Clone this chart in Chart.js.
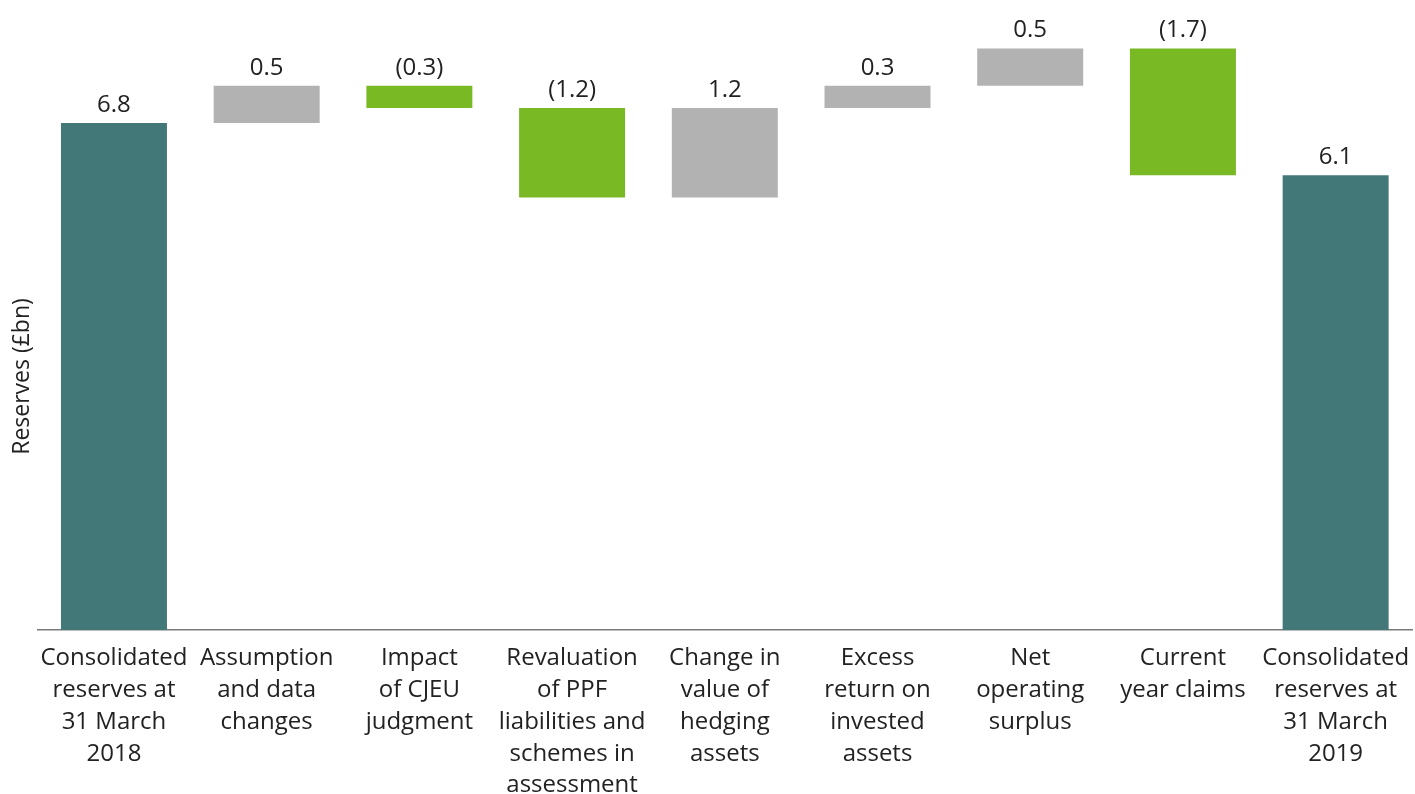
<!DOCTYPE html>
<html>
<head>
<meta charset="utf-8">
<title>Reserves movement</title>
<script src="https://cdn.jsdelivr.net/npm/chart.js@4/dist/chart.umd.min.js"></script>
<style>
    html, body { margin: 0; padding: 0; background: #ffffff; }
    canvas { display: block; }
</style>
</head>
<body>
<canvas id="reservesChart" width="1415" height="794"></canvas>
<script>
// Waterfall of reserves (£bn): opening total, movements, closing total
const categories = [
    ["Consolidated", "reserves at", "31 March", "2018"],
    ["Assumption", "and data", "changes"],
    ["Impact", "of CJEU", "judgment"],
    ["Revaluation", "of PPF", "liabilities and", "schemes in", "assessment"],
    ["Change in", "value of", "hedging", "assets"],
    ["Excess", "return on", "invested", "assets"],
    ["Net", "operating", "surplus"],
    ["Current", "year claims"],
    ["Consolidated", "reserves at", "31 March", "2019"]
]
const movements = [6.8, 0.5, -0.3, -1.2, 1.2, 0.3, 0.5, -1.7, 6.1]
const isTotal = [true, false, false, false, false, false, false, false, true]

const colors = { total: "#437878", up: "#b2b2b2", down: "#78b924" }
const textColor = "#222222"
const fontFamily = "'Open Sans', 'Noto Sans', sans-serif"

// floating [from, to] ranges built from the running total
let running = 0
const ranges = movements.map((v, i) => {
    if (isTotal[i]) {
        running = v
        return [0, v]
    }
    const from = running
    running = Math.round((running + v) * 10) / 10
    return [from, running]
})
const barColors = movements.map((v, i) => isTotal[i] ? colors.total : (v < 0 ? colors.down : colors.up))

function formatValue(v) {
    return v < 0 ? `(${Math.abs(v).toFixed(1)})` : v.toFixed(1)
}

const valueLabels = {
    id: "valueLabels",
    afterDatasetsDraw(chart) {
        const ctx = chart.ctx
        const meta = chart.getDatasetMeta(0)
        ctx.save()
        ctx.font = `24px ${fontFamily}`
        ctx.fillStyle = textColor
        ctx.textAlign = "center"
        ctx.textBaseline = "alphabetic"
        meta.data.forEach((bar, i) => {
            const top = Math.min(bar.y, bar.base)
            ctx.fillText(formatValue(movements[i]), bar.x, top - 11)
        })
        ctx.restore()
    }
}

new Chart(document.getElementById("reservesChart"), {
    type: "bar",
    data: {
        labels: categories,
        datasets: [{
            data: ranges,
            backgroundColor: barColors,
            borderWidth: 0,
            barPercentage: 0.694,
            categoryPercentage: 1,
            clip: false
        }]
    },
    options: {
        responsive: false,
        animation: false,
        layout: {
            padding: { top: 123, left: 0, right: 3, bottom: 0 }
        },
        plugins: {
            legend: { display: false },
            tooltip: { enabled: false }
        },
        scales: {
            x: {
                grid: { display: false, drawTicks: false },
                border: { display: true, color: "#7a7a7a", width: 1.5 },
                afterFit: (scale) => {
                    scale.height = 164
                    scale.paddingLeft = 0
                    scale.paddingRight = 0
                },
                ticks: {
                    color: textColor,
                    autoSkip: false,
                    maxRotation: 0,
                    padding: 12,
                    font: { family: fontFamily, size: 24, lineHeight: 1.33 }
                }
            },
            y: {
                min: 0,
                max: 6.8,
                grid: { display: false, drawTicks: false },
                border: { display: false },
                ticks: { display: false },
                title: {
                    display: true,
                    text: "Reserves (£bn)",
                    color: textColor,
                    padding: { top: 9, bottom: 1 },
                    font: { family: fontFamily, size: 23, lineHeight: 1.2 }
                }
            }
        }
    },
    plugins: [valueLabels]
})
</script>
</body>
</html>
